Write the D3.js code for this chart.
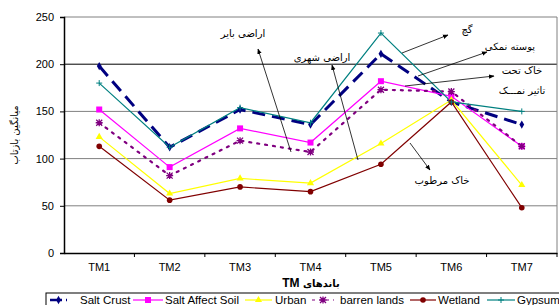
<!DOCTYPE html>
<html>
<head>
<meta charset="utf-8">
<script src="https://cdn.jsdelivr.net/npm/d3@7"></script>
<style>
body{margin:0;background:#fff;}
svg{display:block;font-family:"Liberation Sans",Arial,sans-serif;}
</style>
</head>
<body>
<svg id="chart" width="559" height="305"></svg>
<script>
const bands = ['TM1','TM2','TM3','TM4','TM5','TM6','TM7'];
const yTicks = [0,50,100,150,200,250];

const saltCrust   = [198,112,152,136,211,160,136];
const saltAffect  = [152, 91,132,117,182,166,113];
const urban       = [123, 63, 79, 74,116,162, 72];
const barren      = [138, 82,119,107,173,171,113];
const wetland     = [113, 56, 70, 65, 94,160, 48];
const gypsum      = [180,112,154,138,233,160,150];

const series = [
  {name:'Salt Crust', vals:saltCrust, color:'#000080', w:3, dash:'13,7', marker:'diamond'},
  {name:'Salt Affect Soil', vals:saltAffect, color:'#FF00FF', w:1.2, dash:null, marker:'square'},
  {name:'Urban', vals:urban, color:'#FFFF00', w:1.2, dash:null, marker:'triangle'},
  {name:'barren lands', vals:barren, color:'#800080', w:2.2, dash:'2,6', marker:'star'},
  {name:'Wetland', vals:wetland, color:'#800000', w:1.2, dash:null, marker:'circle'},
  {name:'Gypsum', vals:gypsum, color:'#008080', w:1.2, dash:null, marker:'plus'}
];

const svg = d3.select('#chart');
const L=64, R=557, T=17, B=253;

const x = d3.scaleBand().domain(bands).range([L,R]);
const cx = d => x(d)+x.bandwidth()/2;
const y = d3.scaleLinear().domain([0,250]).range([B,T]);

// grid
svg.append('g').selectAll('line').data(yTicks.filter(v=>v>0)).join('line')
  .attr('x1',L).attr('x2',R).attr('y1',d=>y(d)).attr('y2',d=>y(d))
  .attr('stroke',d=>d===200?'#000':'#808080').attr('stroke-width',1);
svg.append('line').attr('x1',R).attr('x2',R).attr('y1',T).attr('y2',B).attr('stroke','#808080');

// axes
const yAxis = svg.append('g').attr('transform',`translate(${L},0)`)
  .call(d3.axisLeft(y).tickValues(yTicks).tickSize(4).tickPadding(6));
const xAxis = svg.append('g').attr('transform',`translate(0,${B})`)
  .call(d3.axisBottom(x).tickSize(0).tickPadding(10));
[yAxis,xAxis].forEach(a=>{
  a.select('.domain').attr('stroke','#000').attr('stroke-width',1.5);
  a.selectAll('text').attr('font-size',11).attr('font-family','"Liberation Sans",Arial,sans-serif').attr('fill','#000');
});
// x ticks at band boundaries
svg.append('g').selectAll('line').data(bands.slice(1).concat(['end'])).join('line')
  .attr('x1',(d,i)=>L+x.step()*(i+1)).attr('x2',(d,i)=>L+x.step()*(i+1))
  .attr('y1',B).attr('y2',B+4).attr('stroke','#000');

// marker shapes
function drawMarker(g, type, color, px, py){
  if(type==='diamond') g.append('path').attr('d',d3.symbol(d3.symbolDiamond,20)()).attr('transform',`translate(${px},${py})`).attr('fill',color);
  if(type==='square') g.append('rect').attr('x',px-3).attr('y',py-3).attr('width',6).attr('height',6).attr('fill',color);
  if(type==='triangle') g.append('path').attr('d',d3.symbol(d3.symbolTriangle,22)()).attr('transform',`translate(${px},${py})`).attr('fill',color);
  if(type==='circle') g.append('circle').attr('cx',px).attr('cy',py).attr('r',2.8).attr('fill',color);
  if(type==='plus') g.append('path').attr('d',`M${px-3},${py}H${px+3}M${px},${py-3}V${py+3}`).attr('stroke',color).attr('stroke-width',1);
  if(type==='star') g.append('path').attr('d',`M${px-3.5},${py}H${px+3.5}M${px},${py-3.5}V${py+3.5}M${px-3},${py-3}L${px+3},${py+3}M${px-3},${py+3}L${px+3},${py-3}`).attr('stroke',color).attr('stroke-width',1.3);
}

const line = d3.line().x((d,i)=>cx(bands[i])).y(d=>y(d));
const plot = svg.append('g');
series.forEach(s=>{
  plot.append('path').datum(s.vals).attr('d',line).attr('fill','none')
    .attr('stroke',s.color).attr('stroke-width',s.w)
    .attr('stroke-dasharray',s.dash).attr('stroke-linecap',s.dash==='2,6'?'round':'butt');
});
series.forEach(s=>{
  const g = plot.append('g');
  s.vals.forEach((v,i)=>drawMarker(g,s.marker,s.color,cx(bands[i]),y(v)));
});

// annotations
svg.append('defs').append('marker').attr('id','arr').attr('viewBox','0 0 10 10')
  .attr('refX',9).attr('refY',5).attr('markerWidth',7).attr('markerHeight',7).attr('orient','auto')
  .append('path').attr('d','M0,1L10,5L0,9z').attr('fill','#000');
const notes = [
  {t:['اراضی بایر'], tx:243, ty:37, x1:291, y1:152, x2:258, y2:49},
  {t:['اراضی شهری'], tx:322, ty:61, x1:358, y1:160, x2:332, y2:65},
  {t:['گچ'], tx:467, ty:33, x1:402, y1:53, x2:448, y2:35},
  {t:['پوسته نمکی'], tx:510, ty:50, x1:418, y1:76, x2:487, y2:52},
  {t:['خاک تحت','تاثیر نمـــک'], tx:522, ty:74, x1:405, y1:86, x2:494, y2:76},
  {t:['خاک مرطوب'], tx:442, ty:184, x1:410, y1:143, x2:430, y2:170}
];
const ann = svg.append('g');
notes.forEach(n=>{
  ann.append('line').attr('x1',n.x1).attr('y1',n.y1).attr('x2',n.x2).attr('y2',n.y2)
    .attr('stroke','#000').attr('stroke-width',0.8).attr('marker-end','url(#arr)');
  n.t.forEach((s,i)=>ann.append('text').attr('x',n.tx).attr('y',n.ty+i*20)
    .attr('text-anchor','middle').attr('font-size',10).attr('font-family','"DejaVu Sans",sans-serif')
    .attr('direction','rtl').text(s));
});

// axis titles
svg.append('text').attr('transform',`translate(18,135) rotate(-90)`).attr('text-anchor','middle')
  .attr('font-size',10).attr('font-family','"DejaVu Sans",sans-serif').text('میانگین بازتاب');
const xt = svg.append('text').attr('x',311).attr('y',287).attr('text-anchor','middle')
  .attr('font-size',10).attr('font-weight','bold').attr('direction','rtl');
xt.append('tspan').attr('font-family','"DejaVu Sans",sans-serif').text('باندهای ');
xt.append('tspan').attr('font-family','"Liberation Sans",Arial,sans-serif').attr('font-size',12).text('TM');

// legend
const lg = svg.append('g');
lg.append('rect').attr('x',46).attr('y',293).attr('width',520).attr('height',16).attr('fill','#fff').attr('stroke','#000');
const lgPos = [[50,67,80],[133,163,165],[245,272,275],[312,334,340],[410,436,438],[487,515,517]];
series.forEach((s,i)=>{
  const [a,b,tx] = lgPos[i];
  lg.append('line').attr('x1',a).attr('x2',b).attr('y1',300).attr('y2',300)
    .attr('stroke',s.color).attr('stroke-width',s.w===3?2.5:1.2)
    .attr('stroke-dasharray',s.dash? (s.dash==='2,6'?'3,4':'12,4,2,4'):null);
  drawMarker(lg,s.marker,s.color,(a+b)/2,300);
  lg.append('text').attr('x',tx).attr('y',304).attr('font-size',11.5).text(s.name);
});
</script>
</body>
</html>
